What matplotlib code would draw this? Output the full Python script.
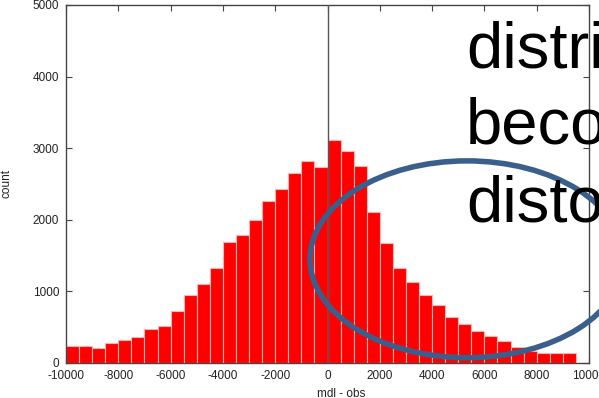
import matplotlib
matplotlib.use("Agg")
import matplotlib.pyplot as plt
from matplotlib.patches import Ellipse
import numpy as np

plt.rcParams["font.family"] = ["Liberation Sans", "DejaVu Sans"]
plt.rcParams["axes.unicode_minus"] = False

# histogram of (mdl - obs), 500-wide bins starting at -10000
BIN_WIDTH = 500
bin_left = np.arange(-10000, 9500, BIN_WIDTH)
counts = [
    233, 235, 205, 271, 322, 355, 467, 517, 718, 947,
    1105, 1320, 1688, 1790, 1991, 2257, 2425, 2649, 2816, 2737,
    3115, 2957, 2747, 2108, 1674, 1324, 1133, 951, 803, 639,
    545, 443, 373, 308, 215, 165, 136, 131, 131,
]
annotation_lines = ["distri", "beco", "disto"]

fig = plt.figure(figsize=(5.99, 3.98), dpi=100)
ax = fig.add_axes([66 / 599, 1 - 362.7 / 398, 523 / 599, 357.7 / 398])

ax.bar(bin_left, counts, width=BIN_WIDTH, align="edge",
       color="#ff0000", edgecolor="#ffb3b3", linewidth=0.8, zorder=2)
ax.axvline(0, color="#555555", lw=1.0, zorder=3)

ax.set_xlim(-10000, 10000)
ax.set_ylim(0, 5000)
ax.set_xticks(range(-10000, 10001, 2000))
ax.set_yticks(range(0, 5001, 1000))
ax.tick_params(direction="in", length=4, width=0.8, colors="#444444",
               labelcolor="#222222", labelsize=8.5, top=True, right=True)
ax.tick_params(axis="x", pad=5)
ax.tick_params(axis="y", pad=5)
for s in ax.spines.values():
    s.set_color("#444444")
    s.set_linewidth(1.0)

ax.set_xlabel("mdl - obs", fontsize=8.5, color="#222222", labelpad=4)
ax.xaxis.set_label_coords(275 / 523, -25 / 357.7)
ax.set_ylabel("count", fontsize=8.5, color="#222222")
ax.yaxis.set_label_coords(-54 / 523, 0.5)

# highlight ellipse over the right tail
ell = Ellipse((5335, 1446), 12008, 2750, fill=False, edgecolor="#3b5f8c",
              linewidth=4.0, clip_on=False, zorder=4)
ax.add_patch(ell)

for txt, ypix in zip(annotation_lines, [67, 143, 222]):
    fig.text(466 / 599, 1 - ypix / 398, txt, fontsize=47, color="black",
             ha="left", va="baseline", zorder=5)

fig.savefig("out.png", dpi=100)
